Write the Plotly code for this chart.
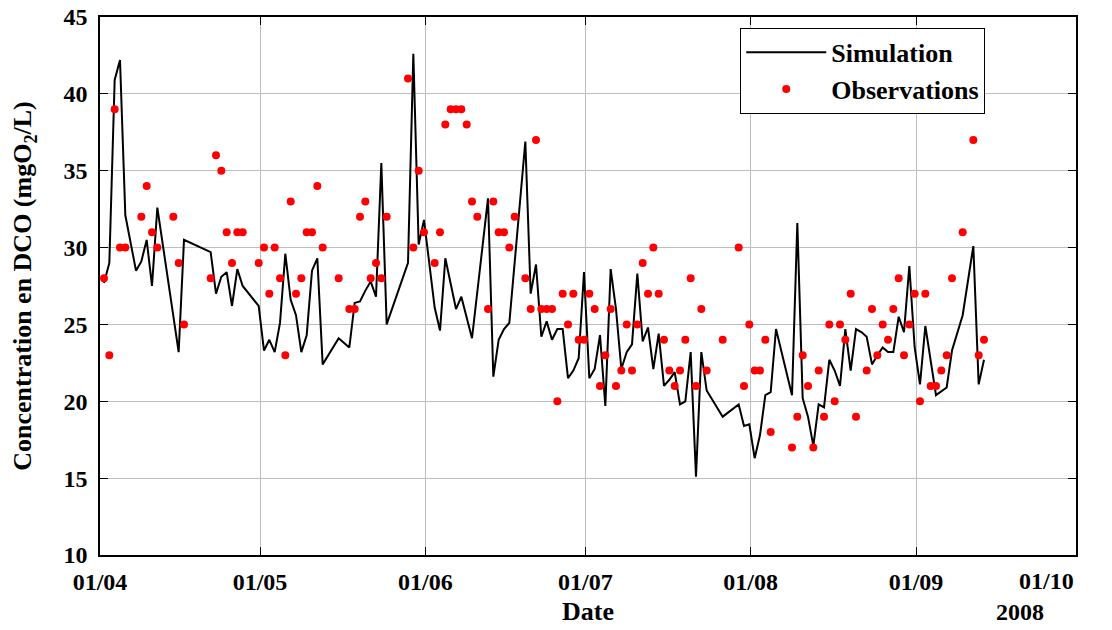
import pandas as pd
import plotly.graph_objects as go

# Day offsets from 2008-04-01 and values
sim_days = [1, 2, 3, 4, 5, 7, 8, 9, 10, 11, 15, 16, 21, 22, 23, 24, 25, 26, 27, 30,
            31, 32, 33, 34, 35, 36, 37, 38, 39, 40, 41, 42, 45, 47, 48, 49, 50, 51, 52, 53,
            54, 58, 59, 60, 61, 63, 64, 65, 67, 68, 70, 73, 74, 75, 76, 77, 80, 81, 82, 83,
            84, 85, 86, 87, 88, 89, 90, 91, 92, 93, 94, 95, 96, 97, 98, 99, 100, 101, 102, 103,
            104, 105, 106, 107, 108, 109, 110, 111, 112, 113, 114, 117, 120, 121, 122, 123, 124, 125, 126, 127,
            130, 131, 132, 133, 134, 135, 136, 137, 138, 139, 140, 141, 142, 143, 144, 145, 146, 147, 148, 149,
            150, 151, 152, 153, 154, 155, 157, 159, 160, 162, 164, 165, 166]
sim_vals = [27.7, 29.0, 40.9, 42.2, 32.1, 28.5, 29.1, 30.5, 27.5, 32.6, 23.2, 30.5, 29.7, 27.0, 28.1, 28.4, 26.2, 28.6, 27.5, 26.2,
            23.3, 24.0, 23.2, 25.1, 29.6, 26.6, 25.6, 23.2, 24.3, 28.5, 29.3, 22.4, 24.1, 23.5, 26.4, 26.5, 27.2, 27.8, 26.8, 35.5,
            25.0, 29.0, 42.6, 30.2, 31.8, 26.1, 24.6, 29.3, 26.0, 26.8, 24.1, 33.2, 21.6, 24.0, 24.7, 25.1, 36.9, 27.0, 28.9, 24.2,
            25.2, 24.0, 24.7, 24.7, 21.5, 22.0, 22.8, 28.4, 21.5, 22.1, 24.3, 19.7, 28.6, 26.0, 22.1, 23.2, 23.7, 28.3, 23.9, 24.8,
            22.1, 24.4, 21.0, 21.4, 21.9, 19.8, 20.0, 23.2, 15.1, 23.2, 20.7, 19.0, 19.8, 18.4, 18.5, 16.3, 17.8, 20.4, 20.6, 24.7,
            20.4, 31.6, 20.2, 19.0, 17.1, 19.8, 19.6, 22.7, 22.0, 21.0, 24.7, 22.0, 24.7, 24.5, 24.2, 22.4, 23.0, 23.5, 23.2, 23.2,
            25.5, 24.5, 28.8, 23.5, 21.1, 24.9, 20.4, 20.9, 23.3, 25.6, 30.1, 21.1, 22.7]

obs_days = [1, 2, 3, 4, 5, 8, 9, 10, 11, 14, 15, 16, 21, 22, 23, 24, 25, 26, 27, 30,
            31, 32, 33, 34, 35, 36, 37, 38, 39, 40, 41, 42, 45, 47, 48, 49, 50, 51, 52, 53,
            54, 58, 59, 60, 61, 63, 64, 65, 66, 67, 68, 69, 70, 71, 73, 74, 75, 76, 77, 78,
            80, 81, 82, 83, 84, 85, 86, 87, 88, 89, 90, 91, 92, 93, 94, 95, 96, 97, 98, 99,
            100, 101, 102, 103, 104, 105, 106, 107, 108, 109, 110, 111, 112, 113, 114, 117, 120, 121, 122, 123,
            124, 125, 126, 130, 131, 132, 133, 134, 135, 136, 137, 138, 139, 140, 141, 142, 144, 145, 146, 147,
            148, 149, 150, 151, 152, 153, 154, 155, 156, 157, 158, 159, 160, 162, 164, 165, 166]
obs_vals = [28, 23, 39, 30, 30, 32, 34, 31, 30, 32, 29, 25, 28, 36, 35, 31, 29, 31, 31, 29,
            30, 27, 30, 28, 23, 33, 27, 28, 31, 31, 34, 30, 28, 26, 26, 32, 33, 28, 29, 28,
            32, 41, 30, 35, 31, 29, 31, 38, 39, 39, 39, 38, 33, 32, 26, 33, 31, 31, 30, 32,
            28, 26, 37, 26, 26, 26, 20, 27, 25, 27, 24, 24, 27, 26, 21, 23, 26, 21, 22, 25,
            22, 25, 29, 27, 30, 27, 24, 22, 21, 22, 24, 28, 21, 26, 22, 24, 30, 21, 25, 22,
            22, 24, 18, 17, 19, 23, 21, 17, 22, 19, 25, 20, 25, 24, 27, 19, 22, 26, 23, 25,
            24, 26, 28, 23, 25, 27, 20, 27, 21, 21, 22, 23, 28, 31, 37, 23, 24]

month_ticks = ["2008-04-01", "2008-05-01", "2008-06-01", "2008-07-01", "2008-08-01", "2008-09-01", "2008-10-01"]
month_labels = ["01/04", "01/05", "01/06", "01/07", "01/08", "01/09", "01/10"]
y_ticks = [10, 15, 20, 25, 30, 35, 40, 45]

base = pd.Timestamp("2008-04-01")
sample_time = pd.Timedelta(hours=-6)   # samples taken in the evening of the previous day
sim_x = [base + pd.Timedelta(days=d) + sample_time for d in sim_days]
obs_x = [base + pd.Timedelta(days=d) + sample_time for d in obs_days]

FONT = "Liberation Serif, Times New Roman, serif"
tick_font = dict(family=FONT, size=24, color="black", weight="bold")
title_font = dict(family=FONT, size=26, color="black", weight="bold")

fig = go.Figure()
fig.add_trace(go.Scatter(x=sim_x, y=sim_vals, mode="lines", name="Simulation",
                         line=dict(color="black", width=2)))
fig.add_trace(go.Scatter(x=obs_x, y=obs_vals, mode="markers", name="Observations",
                         marker=dict(color="#ff0000", size=8)))

axis_common = dict(showline=True, linecolor="black", linewidth=1.5, mirror="ticks",
                   ticks="inside", ticklen=8, tickcolor="black", tickwidth=1,
                   showgrid=True, gridcolor="#bdbdbd", gridwidth=1, zeroline=False,
                   automargin=False, tickfont=tick_font, ticklabeloverflow="allow")

# the last month label sits inside the frame (as in the original), so it is added as an annotation;
# its tick coincides with the right frame edge
fig.update_xaxes(type="date", range=[month_ticks[0], month_ticks[-1]],
                 tickvals=month_ticks[:-1], ticktext=month_labels[:-1], ticklabelstandoff=4,
                 title=dict(text="Date", font=title_font, standoff=8),
                 **axis_common)
fig.update_yaxes(range=[10, 45], tickvals=y_ticks, ticklabelstandoff=6,
                 title=dict(text="Concentration en DCO (mgO<sub>2</sub>/L)",
                            font=title_font, standoff=24),
                 **axis_common)

fig.add_annotation(text=month_labels[-1], xref="paper", yref="paper", x=1.0, y=0,
                   xanchor="right", yanchor="middle", yshift=-26, showarrow=False,
                   font=tick_font)
fig.add_annotation(text="2008", xref="paper", yref="paper", x=0.943, y=0,
                   xanchor="center", yanchor="middle", yshift=-57, showarrow=False,
                   font=tick_font)

fig.update_layout(
    width=1112, height=630,
    margin=dict(l=100, r=36, t=17, b=75),
    plot_bgcolor="white", paper_bgcolor="white",
    showlegend=True,
    legend=dict(x=0.656, y=0.98, xanchor="left", yanchor="top",
                bgcolor="white", bordercolor="black", borderwidth=1,
                font=dict(family=FONT, size=26, color="black", weight="bold"),
                itemwidth=80, tracegroupgap=0),
)

# remove the default page margin so the figure fills the window exactly
fig.write_html("out.html", config={"displayModeBar": False},
               post_script="document.body.style.margin='0';document.body.style.overflow='hidden';")
